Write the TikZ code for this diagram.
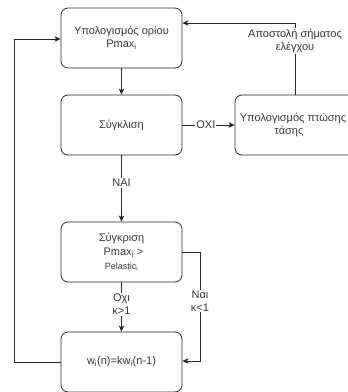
\documentclass[tikz,border=0pt]{standalone}
\usepackage{fontspec}
\setmainfont{Liberation Sans}
\usetikzlibrary{arrows.meta}
\definecolor{txt}{HTML}{333333}
\begin{document}
\begin{tikzpicture}[x=1pt,y=-1pt,
  font=\fontsize{11}{13}\selectfont,
  proc/.style={draw=black!85, line width=0.8pt, rounded corners=7pt,
    minimum width=121pt, minimum height=60pt, align=center, text=txt, inner sep=1pt},
  link/.style={draw=black!85, line width=0.8pt, -{Stealth[length=6pt,width=5.5pt,inset=1.5pt]}},
  lbl/.style={fill=white, text=txt, align=center, inner sep=1pt}
]
\useasboundingbox (0,0) rectangle (348,392);

\node[proc] (calc) at (121.5,38) {Υπολογισμός ορίου\\Pmax\textsubscript{i}};
\node[proc] (conv) at (121.5,125) {Σύγκλιση};
\node[proc, minimum width=122pt] (drop) at (296,125) {\hspace*{-6pt}Υπολογισμός πτώσης\\\hspace*{-14pt}τάσης};
\node[proc] (cmp) at (121.5,252) {Σύγκριση\\[1pt]\hspace*{4pt}Pmax\textsubscript{i} >\\[1pt]{\fontsize{9}{11}\selectfont Pelastic\textsubscript{i}}};
\node[proc] (upd) at (121.5,362) {w\textsubscript{i}(n)=kw\textsubscript{i}(n-1)};

\coordinate (tr) at (295,23);
\coordinate (bl) at (14,362);
\coordinate (tl) at (14,39);
\coordinate (rr) at (200,252);
\coordinate (rb) at (200,361);

\draw[link] (calc) -- (conv);
\draw[link] (conv) -- node[lbl, pos=0.45] {OXI} (drop);
\draw[link] (conv) -- node[lbl, pos=0.42] {NAI} (cmp);
\draw[link] (cmp) -- node[lbl, pos=0.45] {Οχι\\κ>1} (upd);
\draw[link] (drop.north -| tr) -- node[lbl, pos=0.75] {Αποστολή σήματος\\ελέγχου} (tr) -- (tr -| calc.east);
\draw[link] (cmp.east |- rr) -- (rr) -- node[lbl, pos=0.45] {Ναι\\κ<1} (rb) -- (rb -| upd.east);
\draw[link] (upd.west |- bl) -- (bl) -- (tl) -- (tl -| calc.west);
\end{tikzpicture}
\end{document}
